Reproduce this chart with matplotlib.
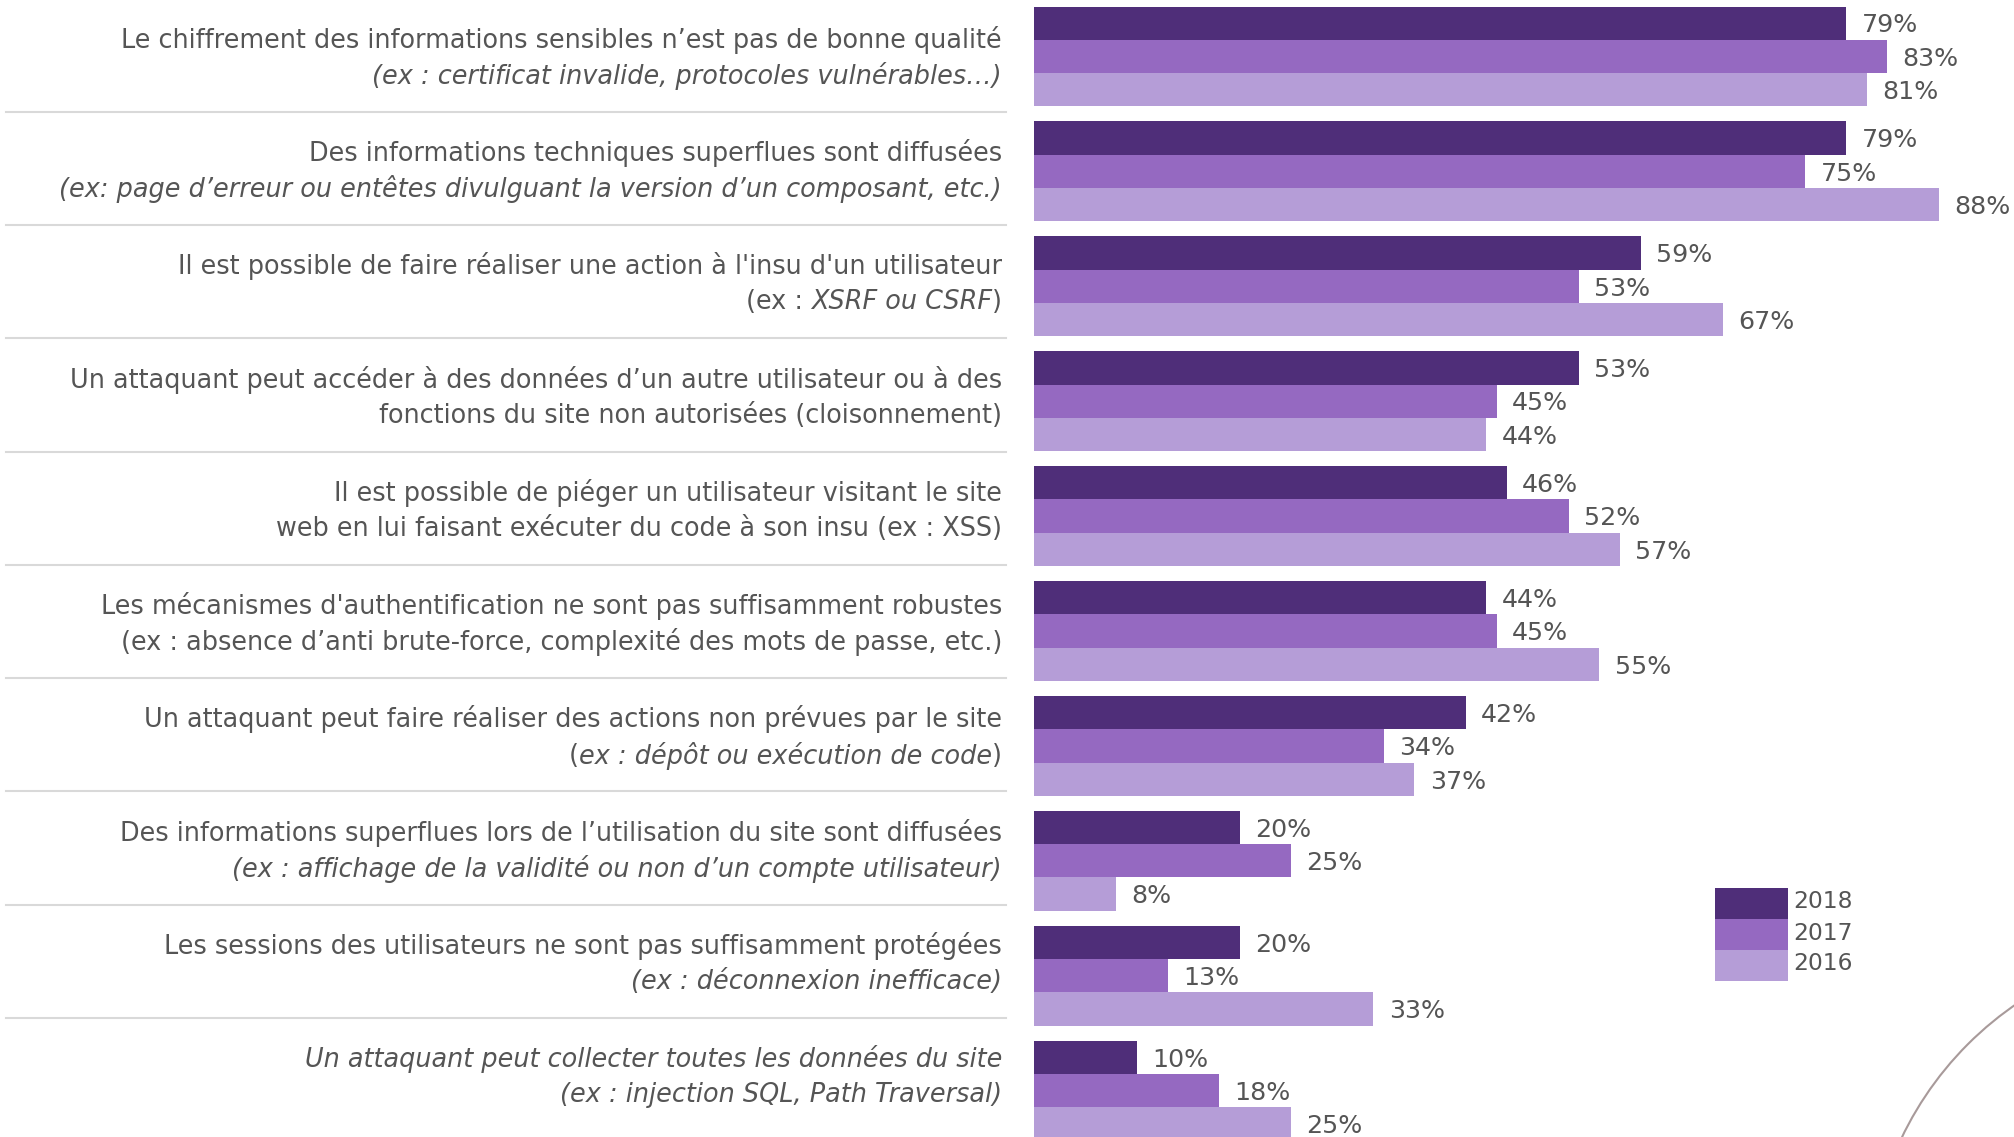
import matplotlib
matplotlib.use("Agg")
import matplotlib.pyplot as plt
from matplotlib.patches import Circle, Rectangle
from matplotlib.lines import Line2D
import matplotlib.transforms as mtransforms
import numpy as np

# ---------------- data ----------------
label_line1 = [
    "Le chiffrement des informations sensibles n\u2019est pas de bonne qualité",
    "Des informations techniques superflues sont diffusées",
    "Il est possible de faire réaliser une action à l'insu d'un utilisateur",
    "Un attaquant peut accéder à des données d\u2019un autre utilisateur ou à des",
    "Il est possible de piéger un utilisateur visitant le site",
    "Les mécanismes d'authentification ne sont pas suffisamment robustes",
    "Un attaquant peut faire réaliser des actions non prévues par le site",
    "Des informations superflues lors de l\u2019utilisation du site sont diffusées",
    "Les sessions des utilisateurs ne sont pas suffisamment protégées",
    "*Un attaquant peut collecter toutes les données du site*",
]
label_line2 = [
    "*(ex : certificat invalide, protocoles vulnérables\u2026)*",
    "*(ex: page d\u2019erreur ou entêtes divulguant la version d\u2019un composant, etc.)*",
    "(ex : *XSRF ou CSRF*)",
    "fonctions du site non autorisées (cloisonnement)",
    "web en lui faisant exécuter du code à son insu (ex : XSS)",
    "(ex : absence d\u2019anti brute-force, complexité des mots de passe, etc.)",
    "(*ex : dépôt ou exécution de code*)",
    "*(ex : affichage de la validité ou non d\u2019un compte utilisateur)*",
    "*(ex : déconnexion inefficace)*",
    "*(ex : injection SQL, Path Traversal)*",
]
years = ["2018", "2017", "2016"]
values_2018 = [79, 79, 59, 53, 46, 44, 42, 20, 20, 10]
values_2017 = [83, 75, 53, 45, 52, 45, 34, 25, 13, 18]
values_2016 = [81, 88, 67, 44, 57, 55, 37, 8, 33, 25]

colors = ["#4F2E79", "#9569C1", "#B59DD7"]
text_color = "#555555"

# ---------------- figure ----------------
W, H, DPI = 2014, 1137, 100
fig = plt.figure(figsize=(W / DPI, H / DPI), dpi=DPI)
plt.rcParams["font.family"] = ["DejaVu Sans"]
FS_CAT = 18.4
FS_VAL = 18.2
FS_LEG = 16.8

step_px = 114.9
first_center_px = 56.5
y_top = -first_center_px / step_px
y_bot = (H - first_center_px) / step_px

ax_left_px = 1034
ax = fig.add_axes([ax_left_px / W, 0, 1 - ax_left_px / W, 1])
px_per_pct = 10.28
ax.set_xlim(0, (W - ax_left_px) / px_per_pct)
ax.set_ylim(y_bot, y_top)
ax.axis("off")

n = len(values_2018)
ypos = np.arange(n)
bh = 0.29
series = [values_2018, values_2017, values_2016]
for k, (vals, col, yr) in enumerate(zip(series, colors, years)):
    yy = ypos + (k - 1) * bh
    ax.barh(yy, vals, height=bh, color=col, edgecolor="none", label=yr)
    for y, v in zip(yy, vals):
        ax.text(v + 1.5, y + 0.02, f"{v}%", ha="left", va="center",
                fontsize=FS_VAL, color=text_color, clip_on=False)

# left column (labels + separators) uses a slightly tighter rhythm
left_step = 0.986
label_off = 0.011
sep_off = 0.48

blend = mtransforms.blended_transform_factory(fig.transFigure, ax.transData)
for i in range(n - 1):
    ysep = sep_off + i * left_step
    fig.add_artist(Line2D([6 / W, 1006 / W], [ysep, ysep], transform=blend,
                          color="#D9D9D9", lw=1.5))

# category labels with mixed italic segments, right aligned
renderer = fig.canvas.get_renderer()

def parse(s):
    parts = s.split("*")
    return [(p, i % 2 == 1) for i, p in enumerate(parts) if p]

def measure(s, italic):
    t = fig.text(0, 0, s, fontsize=FS_CAT, style="italic" if italic else "normal")
    w = t.get_window_extent(renderer).width
    t.remove()
    return w

space_w = {False: measure("x x", False) - measure("xx", False),
           True: measure("x x", True) - measure("xx", True)}

x_right_px = 1002
dy = 0.157
for i in range(n):
    yc = label_off + i * left_step
    for line, off in ((label_line1[i], -dy), (label_line2[i], dy)):
        segs = parse(line)
        xr = x_right_px
        for seg, it in reversed(segs):
            core = seg.rstrip(" ")
            trail = len(seg) - len(core)
            xr -= trail * space_w[it]
            core2 = core.lstrip(" ")
            lead = len(core) - len(core2)
            t = fig.text(xr / W, yc + off, core2, transform=blend, ha="right",
                         va="center", fontsize=FS_CAT, color=text_color,
                         style="italic" if it else "normal")
            xr -= t.get_window_extent(renderer).width
            xr -= lead * space_w[it]

# legend: stacked swatches with labels (figure pixel layout)
leg_x, leg_y0, sw_w, sw_h = 1715, 887.5, 73, 31
for k, (c, yr) in enumerate(zip(colors, years)):
    top = leg_y0 + k * sw_h
    fig.add_artist(Rectangle((leg_x / W, 1 - (top + sw_h) / H), sw_w / W, sw_h / H,
                             transform=fig.transFigure, facecolor=c, edgecolor="none"))
    fig.text((leg_x + sw_w + 5) / W, 1 - (top + sw_h / 2 - 1) / H, yr,
             ha="left", va="center", fontsize=FS_LEG, color=text_color)

# decorative arc at bottom right
arc = Circle((2207.5 / DPI, (H - 1284) / DPI), 3.39, transform=fig.dpi_scale_trans,
             fill=False, edgecolor="#A89A9A", lw=1.5, clip_on=False)
fig.add_artist(arc)

fig.savefig("out.png", dpi=DPI)
